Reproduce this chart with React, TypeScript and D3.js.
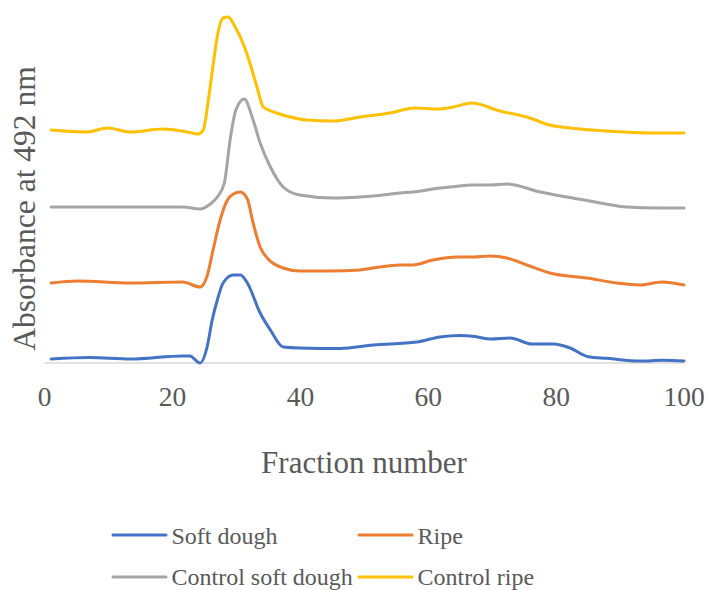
import React from "react";
import * as d3 from "d3";

// Fraction number vs absorbance at 492 nm (curves stacked with baseline offsets)
type Pt = [number, number];

const softDough: Pt[] = [
  [1, 0.04], [7, 0.055], [13.4, 0.04], [21.6, 0.07], [22.7, 0.07], [24.3, 0.0],
  [25.4, 0.16], [26.2, 0.43], [27, 0.63], [27.9, 0.8], [29.5, 0.88], [30.6, 0.88],
  [31.7, 0.8], [33.7, 0.5], [35.3, 0.33], [37.3, 0.16], [39.9, 0.15], [46.2, 0.145],
  [51.4, 0.18], [58.2, 0.21], [61.8, 0.26], [65, 0.275], [67.3, 0.265], [69.7, 0.24],
  [72.8, 0.25], [76.2, 0.19], [79.5, 0.19], [82.2, 0.15], [85, 0.063], [88, 0.047],
  [93.1, 0.02], [96.7, 0.027], [100, 0.02],
];

const ripe: Pt[] = [
  [1, 0.8], [5.2, 0.82], [13.4, 0.8], [21.6, 0.81], [24.3, 0.76], [25.4, 0.87],
  [26.3, 1.12], [27.4, 1.42], [28.5, 1.62], [29.5, 1.69], [30.6, 1.71], [31.7, 1.64],
  [32.6, 1.4], [33.7, 1.16], [34.8, 1.05], [37.3, 0.95], [39.9, 0.92], [44.6, 0.92],
  [49.3, 0.93], [51.4, 0.95], [55.6, 0.98], [57.6, 0.98], [60.7, 1.03], [64.5, 1.06],
  [67, 1.06], [69.7, 1.07], [72.3, 1.05], [75.4, 0.98], [79, 0.9], [84.8, 0.85],
  [89.5, 0.8], [93.1, 0.78], [96.6, 0.81], [100, 0.78],
];

const controlSoftDough: Pt[] = [
  [1, 1.56], [13.4, 1.56], [21.6, 1.56], [24.3, 1.54], [25.9, 1.59], [27, 1.66],
  [28.1, 1.8], [29, 2.23], [29.9, 2.53], [31.2, 2.64], [32.6, 2.43], [33.7, 2.2],
  [35.3, 1.96], [37.3, 1.76], [39.9, 1.68], [45.1, 1.65], [49.3, 1.66], [51.4, 1.67],
  [55.6, 1.7], [57.6, 1.71], [61.8, 1.75], [63.4, 1.76], [67, 1.78], [69.7, 1.78],
  [72.3, 1.79], [77.5, 1.71], [82.6, 1.65], [86.9, 1.6], [91.1, 1.56], [95.8, 1.55],
  [100, 1.55],
];

const controlRipe: Pt[] = [
  [1, 2.33], [6.6, 2.31], [9.8, 2.35], [13.4, 2.31], [18.5, 2.34], [22.3, 2.31],
  [24, 2.29], [24.8, 2.33], [25.6, 2.63], [26.3, 2.96], [27.1, 3.3], [27.9, 3.45],
  [28.7, 3.46], [29.8, 3.36], [31, 3.2], [32.1, 3.0], [33.2, 2.76], [34.2, 2.56],
  [36.3, 2.5], [38.4, 2.46], [41, 2.43], [45.1, 2.42], [49.3, 2.46], [54, 2.5],
  [57.9, 2.55], [61.4, 2.54], [63.9, 2.56], [66.8, 2.6], [71.2, 2.52], [75.4, 2.46],
  [79, 2.38], [83.7, 2.34], [90.5, 2.31], [95.8, 2.3], [100, 2.3],
];

const seriesNames = ["Soft dough", "Ripe", "Control soft dough", "Control ripe"];
const seriesColors = ["#4472C4", "#ED7D31", "#A5A5A5", "#FFC000"];
const seriesData = [softDough, ripe, controlSoftDough, controlRipe];
const xTicks = [0, 20, 40, 60, 80, 100];

const W = 707;
const H = 590;
const FONT = "'Liberation Serif', 'Times New Roman', serif";
const TEXT = "#595959";

export default function App() {
  const x = d3.scaleLinear().domain([0, 100]).range([44.7, 684]);
  const y = d3.scaleLinear().domain([0, 3.5]).range([363, 13]);
  const line = d3
    .line<Pt>()
    .x((d) => x(d[0]))
    .y((d) => y(d[1]))
    .curve(d3.curveMonotoneX);

  const legendItems = [
    { i: 0, lx: 113, ly: 535, tb: 543.5 },
    { i: 1, lx: 359, ly: 535, tb: 543.5 },
    { i: 2, lx: 113, ly: 577, tb: 585 },
    { i: 3, lx: 359, ly: 577, tb: 585 },
  ];

  return (
    <svg
      width={W}
      height={H}
      style={{ position: "absolute", left: 0, top: 0, background: "#fff" }}
      fontFamily={FONT}
    >
      <rect width={W} height={H} fill="#fff" />
      {/* horizontal axis */}
      <line x1={x(0)} x2={x(100)} y1={y(0)} y2={y(0)} stroke="#D9D9D9" strokeWidth={1.5} />
      {xTicks.map((t) => (
        <text key={t} x={x(t)} y={406} textAnchor="middle" fontSize={27.5} fill={TEXT}>
          {t}
        </text>
      ))}
      <text x={364} y={473} textAnchor="middle" fontSize={31} fill={TEXT}>
        Fraction number
      </text>
      <text
        transform={`translate(35,208.5) rotate(-90)`}
        textAnchor="middle"
        fontSize={31.5}
        fill={TEXT}
      >
        Absorbance at 492 nm
      </text>
      {seriesData.map((s, i) => (
        <path
          key={seriesNames[i]}
          d={line(s) || ""}
          fill="none"
          stroke={seriesColors[i]}
          strokeWidth={3}
          strokeLinejoin="round"
          strokeLinecap="round"
        />
      ))}
      {legendItems.map(({ i, lx, ly, tb }) => (
        <g key={seriesNames[i]}>
          <line x1={lx} x2={lx + 53} y1={ly} y2={ly} stroke={seriesColors[i]} strokeWidth={3} strokeLinecap="round" />
          <text x={lx + 58.5} y={tb} fontSize={24} fill={TEXT}>
            {seriesNames[i]}
          </text>
        </g>
      ))}
    </svg>
  );
}
